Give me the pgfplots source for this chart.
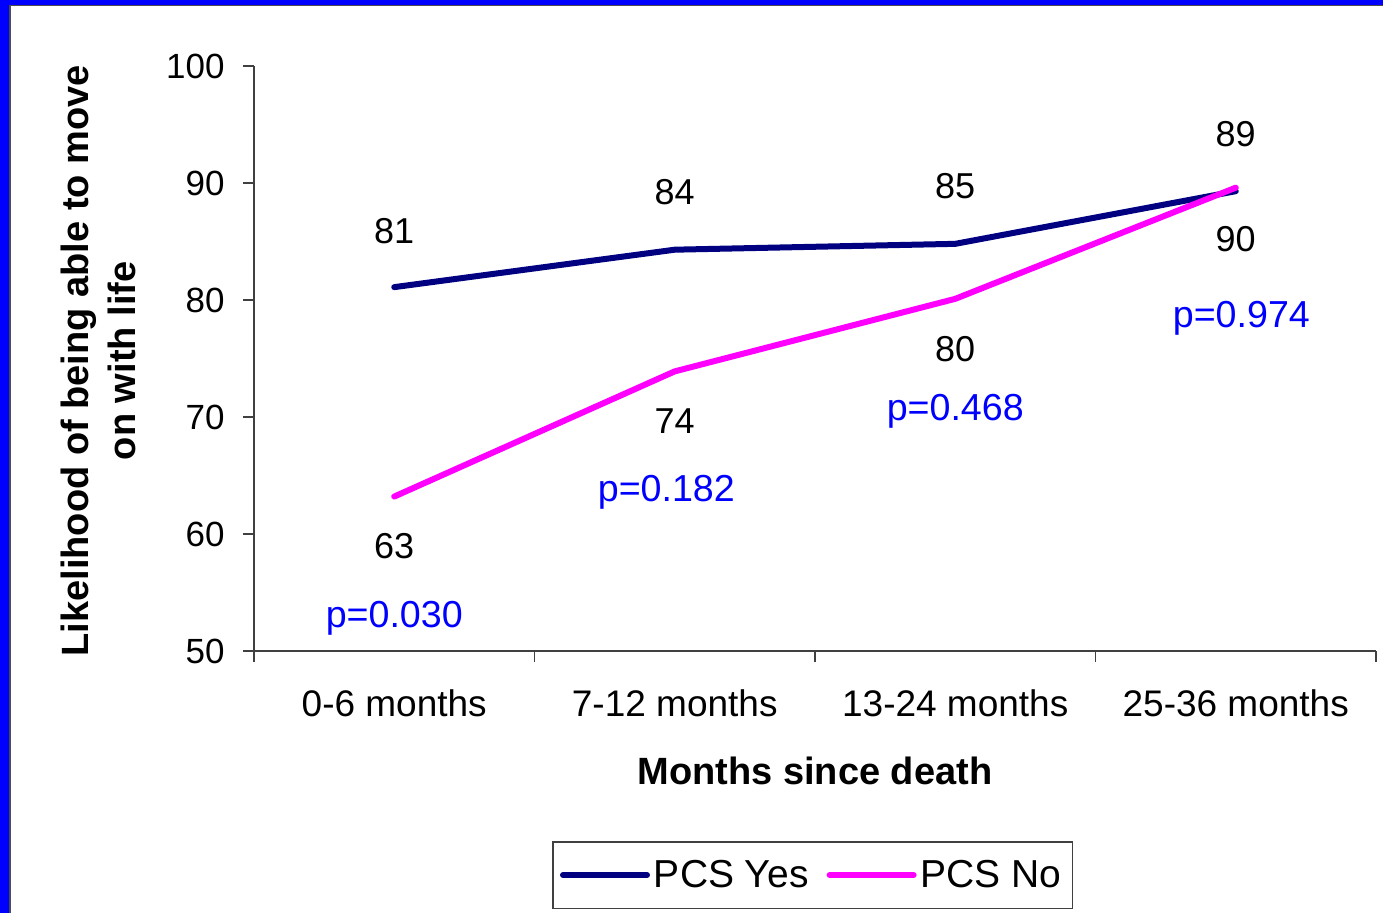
\documentclass[border=0pt]{standalone}
\usepackage{pgfplots}
\pgfplotsset{compat=1.18}
\usepackage{fontspec}
\setmainfont{Liberation Sans}
\definecolor{pcsyes}{RGB}{0,0,128}
\definecolor{pcsno}{RGB}{255,0,255}
\definecolor{pblue}{RGB}{0,0,255}
\begin{document}
\begin{tikzpicture}
\useasboundingbox (-127bp,-131bp) rectangle (564.5bp,325.5bp);
\fill[white] (-127bp,-131bp) rectangle (564.5bp,325.5bp);
\begin{axis}[
  at={(0,0)}, anchor=south west,
  scale only axis,
  width=561bp, height=292.5bp,
  xmin=-0.5, xmax=3.5,
  ymin=50, ymax=100,
  axis x line=bottom, axis y line=left,
  axis line style={-, black!75, line width=0.6bp},
  tick align=outside,
  ytick={50,60,70,80,90,100},
  major tick length=5.5bp,
  every tick/.style={black!75, line width=0.6bp},
  xtick={-0.5,0.5,1.5,2.5,3.5},
  xticklabels={},
  extra x ticks={0,1,2,3},
  extra x tick labels={0-6 months,7-12 months,13-24 months,25-36 months},
  extra x tick style={tick style={draw=none}},
  xticklabel style={anchor=center, inner sep=0pt, yshift=-20.5bp, font=\fontsize{18.5bp}{22bp}\selectfont},
  yticklabel style={anchor=east, inner sep=0pt, xshift=-9bp, font=\fontsize{17.5bp}{21bp}\selectfont},
  /pgf/number format/assume math mode=true,
  xlabel={\textbf{Months since death}},
  xlabel style={at={(axis description cs:0.5,-0.205)}, anchor=center, font=\fontsize{19bp}{22bp}\selectfont},
  ylabel={\textbf{Likelihood of being able to move}\\\textbf{on with life}},
  ylabel style={at={(axis description cs:-0.139,0.496)}, anchor=center, rotate=0, align=center, font=\fontsize{19bp}{23.5bp}\selectfont},
  clip=false,
  legend columns=2,
  legend style={at={(axis description cs:0.498,-0.383)}, anchor=center,
    draw=black!75, line width=0.6bp, inner xsep=3.5bp, inner ysep=6bp,
    font=\fontsize{19.5bp}{22bp}\selectfont,
    nodes={inner xsep=2bp, inner ysep=3bp},
    /tikz/every even column/.append style={column sep=7bp}},
  legend image code/.code={\draw[#1] (0bp,0bp) -- (42bp,0bp);},
]
\addplot[pcsyes, line width=3bp, line cap=round, line join=round] coordinates {(0,81.1) (1,84.3) (2,84.8) (3,89.3)};
\addlegendentry{PCS Yes}
\addplot[pcsno, line width=3bp, line cap=round, line join=round] coordinates {(0,63.2) (1,73.9) (2,80.1) (3,89.6)};
\addlegendentry{PCS No}
\begin{scope}[every node/.style={font=\fontsize{18bp}{21bp}\selectfont, anchor=center}]
\node at (axis cs:0,85.9) {81};
\node at (axis cs:1,89.23) {84};
\node at (axis cs:2,89.74) {85};
\node at (axis cs:3,94.19) {89};
\node at (axis cs:0,58.97) {63};
\node at (axis cs:1,69.66) {74};
\node at (axis cs:2,75.81) {80};
\node at (axis cs:3,85.21) {90};
\end{scope}
\begin{scope}[every node/.style={font=\fontsize{18.8bp}{21bp}\selectfont, anchor=center, text=pblue}]
\node at (axis cs:0,52.8) {p=0.030};
\node at (axis cs:0.97,63.6) {p=0.182};
\node at (axis cs:2.0,70.45) {p=0.468};
\node at (axis cs:3.02,78.4) {p=0.974};
\end{scope}
\end{axis}
\fill[pblue] (-127bp,-131bp) rectangle (-122.3bp,325.5bp);
\fill[pblue] (-127bp,323bp) rectangle (564.5bp,325.5bp);
\draw[black!70, line width=0.6bp] (-122bp,-131bp) -- (-122bp,322.7bp) -- (564.5bp,322.7bp);
\end{tikzpicture}
\end{document}
